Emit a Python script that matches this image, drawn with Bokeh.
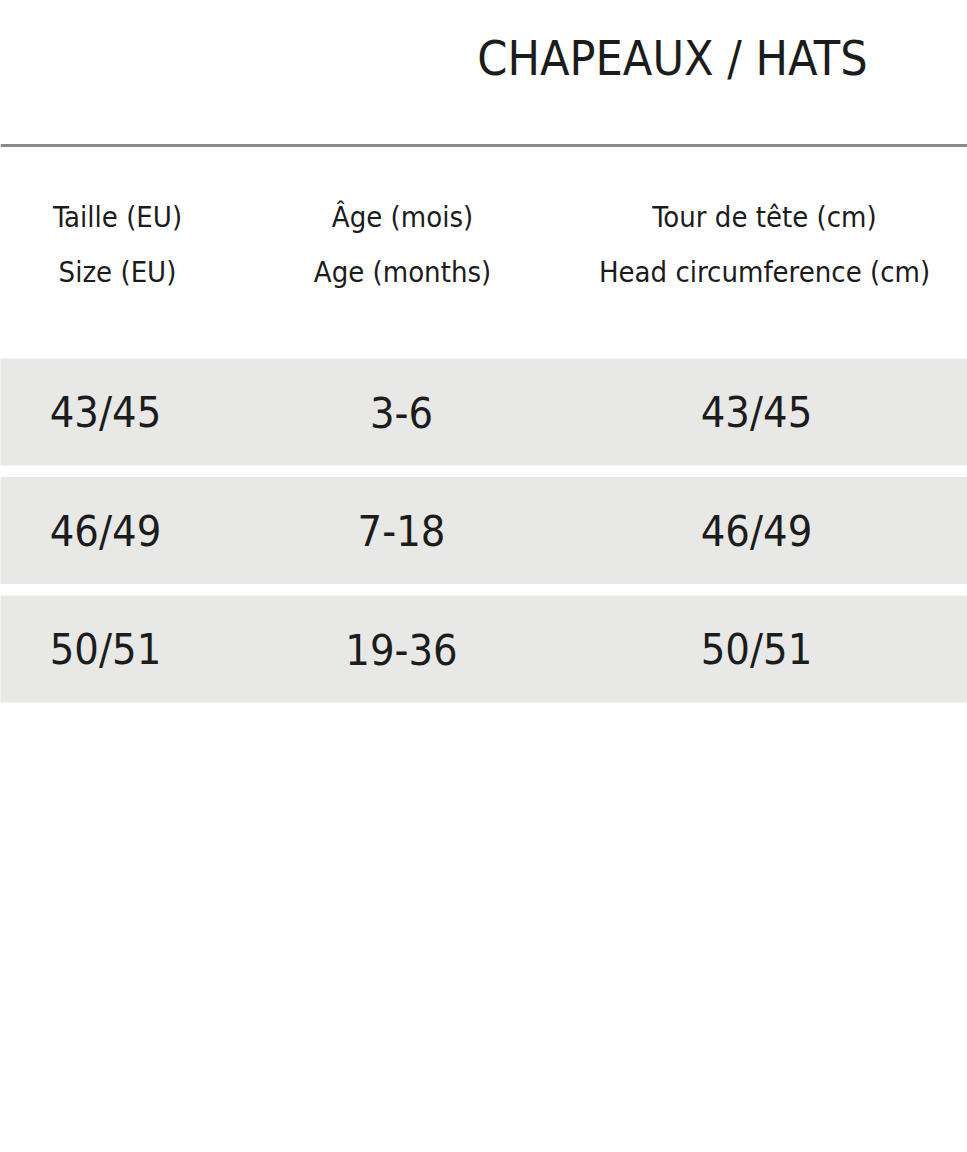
from bokeh.plotting import figure
from bokeh.models import Range1d, Span, ColumnDataSource
from bokeh.core.properties import value
from bokeh.embed import file_html
from bokeh.resources import INLINE

title = "CHAPEAUX / HATS"
headers_fr = ["Taille (EU)", "Âge (mois)", "Tour de tête (cm)"]
headers_en = ["Size (EU)", "Age (months)", "Head circumference (cm)"]
sizes_eu = ["43/45", "46/49", "50/51"]
ages_months = ["3-6", "7-18", "19-36"]
head_cm = ["43/45", "46/49", "50/51"]

FONT = "DejaVu Sans Condensed"
TXT = "#1c1c1c"

W, H = 967, 1152
p = figure(width=W, height=H, output_backend="svg", toolbar_location=None,
           x_range=Range1d(0, W), y_range=Range1d(H, 0),
           min_border=0)
p.axis.visible = False
p.grid.visible = False
p.outline_line_color = None
p.background_fill_color = "white"
p.border_fill_color = "white"

head_x = [117, 402, 764]
cell_x = [105, 401, 756]
band_top0, band_step, band_h = 358, 118.5, 107

# bands
tops = [band_top0 + i * band_step for i in range(len(sizes_eu))]
p.quad(left=-10, right=W + 10, top=tops, bottom=[t + band_h for t in tops],
       fill_color="#e8e8e6", line_color=None)

# rule under title
p.add_layout(Span(location=145, dimension="width", line_color="#8a8a8a", line_width=3))

# title
p.text(x=[672], y=[57], text=[title], text_align="center", text_baseline="middle",
       text_font=value(FONT), text_font_size="48px", text_color=TXT)

# headers
p.text(x=head_x, y=[216] * 3, text=headers_fr, text_align="center", text_baseline="middle",
       text_font=value(FONT), text_font_size="29px", text_color=TXT)
p.text(x=head_x, y=[271] * 3, text=headers_en, text_align="center", text_baseline="middle",
       text_font=value(FONT), text_font_size="29px", text_color=TXT)

# rows
cols = [sizes_eu, ages_months, head_cm]
xs, ys, ts = [], [], []
for ci, col in enumerate(cols):
    for ri, v in enumerate(col):
        xs.append(cell_x[ci])
        ys.append(tops[ri] + band_h / 2)
        ts.append(v)
src = ColumnDataSource(dict(x=xs, y=ys, t=ts))
p.text(x="x", y="y", text="t", source=src, text_align="center", text_baseline="middle",
       text_font=value(FONT), text_font_size="43px", text_color=TXT)

open("out.html", "w").write(file_html(p, INLINE))
